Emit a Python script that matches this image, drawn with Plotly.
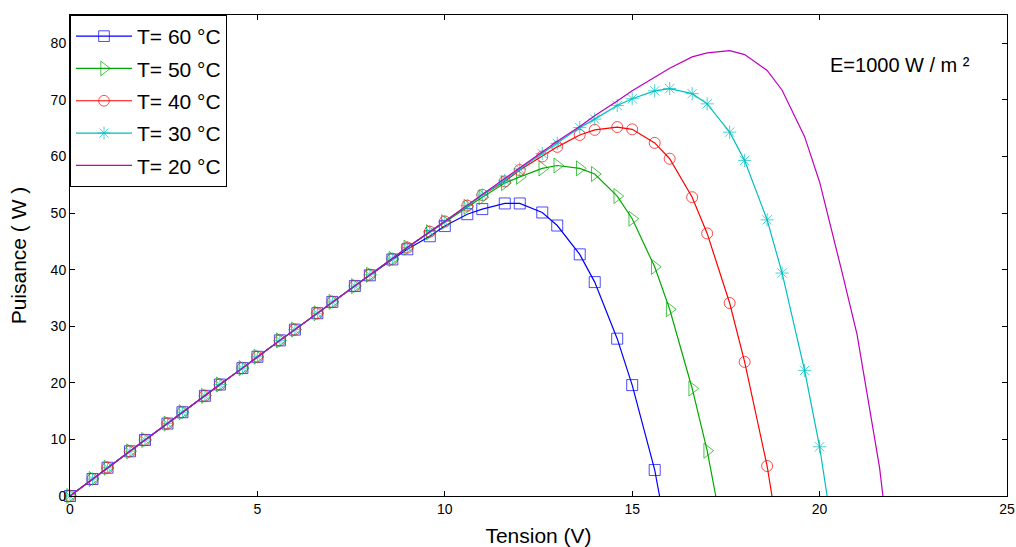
import plotly.graph_objects as go

# ---------------- data ----------------
x_lin = [0, 0.6, 1, 1.6, 2, 2.6, 3, 3.6, 4, 4.6, 5, 5.6, 6, 6.6, 7, 7.6, 8, 8.6, 9, 9.6, 10]

x_60 = x_lin + [10.6, 11, 11.6, 12, 12.6, 13, 13.6, 14, 14.6, 15, 15.6, 15.73]
p_60 = [0, 3.0, 5.0, 7.9, 9.9, 12.8, 14.8, 17.7, 19.7, 22.6, 24.6, 27.5, 29.4, 32.3, 34.3, 37.1, 39.0, 41.8, 43.6, 45.9, 47.7,
        49.8, 50.7, 51.7, 51.7, 50.1, 47.8, 42.7, 37.8, 27.8, 19.6, 4.6, 0]

x_50 = x_lin + [10.6, 11, 11.6, 12, 12.6, 13, 13.6, 14, 14.6, 15, 15.6, 16, 16.6, 17, 17.23]
p_50 = [0, 3.0, 5.0, 7.9, 9.9, 12.8, 14.8, 17.7, 19.7, 22.6, 24.6, 27.5, 29.4, 32.3, 34.3, 37.1, 39.1, 41.9, 43.9, 46.6, 48.4,
        51.1, 52.8, 55.3, 56.4, 57.9, 58.4, 57.9, 56.9, 53.0, 49.0, 40.5, 33.0, 19.0, 8.0, 0]

x_40 = x_lin + [10.6, 11, 11.6, 12, 12.6, 13, 13.6, 14, 14.6, 15, 15.6, 16, 16.6, 17, 17.6, 18, 18.6, 18.73]
p_40 = [0, 3.0, 5.0, 7.9, 9.9, 12.8, 14.8, 17.7, 19.7, 22.6, 24.6, 27.5, 29.4, 32.3, 34.3, 37.1, 39.1, 41.9, 43.9, 46.7, 48.5,
        51.3, 53.2, 55.6, 57.6, 60.0, 61.7, 63.8, 64.7, 65.2, 64.8, 62.4, 59.6, 52.8, 46.4, 34.1, 23.7, 5.3, 0]

x_30 = x_lin + [10.6, 11, 11.6, 12, 12.6, 13, 13.6, 14, 14.6, 15, 15.6, 16, 16.6, 17, 17.6, 18, 18.6, 19, 19.6, 20, 20.2]
p_30 = [0, 3.0, 5.0, 7.9, 9.9, 12.8, 14.8, 17.7, 19.7, 22.6, 24.6, 27.5, 29.4, 32.3, 34.3, 37.1, 39.1, 41.9, 43.9, 46.7, 48.5,
        51.3, 53.2, 55.8, 57.8, 60.5, 62.3, 65.1, 66.6, 69.0, 70.2, 71.6, 72.0, 71.1, 69.3, 64.3, 59.3, 48.8, 39.4, 22.2, 8.7, 0]

x_20 = x_lin + [10.6, 11, 11.6, 12, 12.6, 13, 13.6, 14, 14.6, 15, 15.6, 16, 16.6, 17, 17.6, 18, 18.6, 19, 19.6, 20, 20.6, 21, 21.6, 21.69]
p_20 = [0, 3.0, 5.0, 7.9, 9.9, 12.8, 14.8, 17.7, 19.7, 22.6, 24.6, 27.5, 29.4, 32.3, 34.3, 37.1, 39.1, 41.9, 43.9, 46.7, 48.5,
        51.4, 53.3, 56.0, 58.0, 60.8, 62.7, 65.3, 67.2, 69.8, 71.6, 74.0, 75.6, 77.6, 78.3, 78.7, 78.0, 75.2, 71.7, 63.5, 55.5,
        39.5, 28.5, 5.0, 0]

names = ["T= 60 °C", "T= 50 °C", "T= 40 °C", "T= 30 °C", "T= 20 °C"]
x_ticks = [0, 5, 10, 15, 20, 25]
y_ticks = [0, 10, 20, 30, 40, 50, 60, 70, 80]
annotation_text = "E=1000 W / m ²"

# ---------------- styling ----------------
FONT = "Arial, Liberation Sans, Helvetica, sans-serif"
series = [
    (x_60, p_60, names[0], "rgb(0,0,255)", "square-open", 11),
    (x_50, p_50, names[1], "rgb(0,170,0)", "triangle-right-open", 13),
    (x_40, p_40, names[2], "rgb(255,0,0)", "circle-open", 11),
    (x_30, p_30, names[3], "rgb(0,191,191)", "asterisk-open", 11),
    (x_20, p_20, names[4], "rgb(191,0,191)", None, 0),
]

fig = go.Figure()
for i, (xs, ys, nm, col, sym, sz) in enumerate(series):
    if sym is None:
        fig.add_trace(go.Scatter(x=xs, y=ys, name=nm, mode="lines",
                                 line=dict(color=col, width=1.2),
                                 legendgroup=f"g{i}", cliponaxis=False))
    else:
        sizes = [sz] * (len(xs) - 1) + [0]
        fig.add_trace(go.Scatter(x=xs, y=ys, name=nm, mode="lines+markers",
                                 line=dict(color=col, width=1.2),
                                 marker=dict(symbol=sym, size=sizes, color=col,
                                             line=dict(width=1, color=col)),
                                 legendgroup=f"g{i}", cliponaxis=False))

axis_common = dict(showgrid=False, zeroline=False, showline=True, linecolor="black",
                   linewidth=1, mirror="ticks", ticks="inside", ticklen=5,
                   tickcolor="black", automargin=False,
                   tickfont=dict(family=FONT, size=14, color="black"))

fig.update_xaxes(range=[0, 25], tickvals=x_ticks, ticktext=[str(v) for v in x_ticks],
                 title=dict(text="Tension (V)", font=dict(family=FONT, size=21, color="black"), standoff=14),
                 **axis_common)
fig.update_yaxes(range=[0, 85], tickvals=y_ticks, ticktext=[str(v) for v in y_ticks],
                 title=dict(text="Puisance ( W )", font=dict(family=FONT, size=21, color="black"), standoff=18),
                 **axis_common)

fig.add_annotation(x=22.15, y=76.1, xref="x", yref="y", text=annotation_text, showarrow=False,
                   font=dict(family=FONT, size=20, color="black"))

fig.update_layout(
    width=1016, height=547,
    margin=dict(l=70, r=9, t=15, b=51),
    paper_bgcolor="white", plot_bgcolor="white",
    showlegend=True,
    legend=dict(x=0, y=1, xanchor="left", yanchor="top", bgcolor="white",
                bordercolor="black", borderwidth=1, tracegroupgap=2, itemwidth=56,
                font=dict(family=FONT, size=21, color="black")),
)

fig.write_html("out.html")
